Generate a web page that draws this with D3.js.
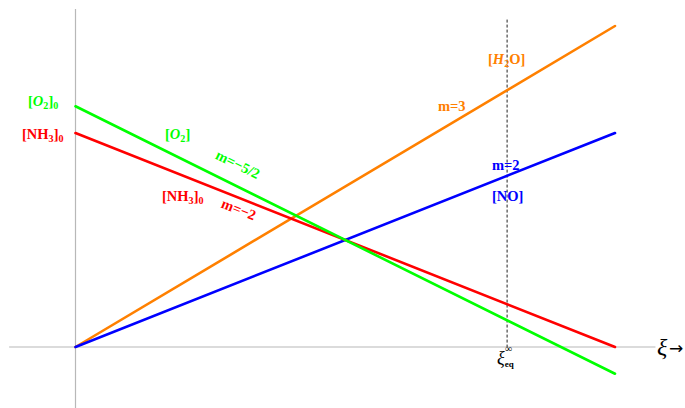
<!DOCTYPE html>
<html>
<head>
<meta charset="utf-8">
<script src="https://cdn.jsdelivr.net/npm/d3@7/dist/d3.min.js"></script>
<style>
  body { margin: 0; background: #fff; }
  text { font-family: "Liberation Serif", "Times New Roman", serif; }
</style>
</head>
<body>
<div id="chart"></div>
<script>
// concentrations as linear functions of the extent of reaction xi
const species = ["H2O", "NO", "NH3", "O2"];
const initial = [0, 0, 2, 2.25];
const slopes = [3, 2, -2, -2.5];
const colors = ["#ff8000", "#0000ff", "#ff0000", "#00ff00"];
const xiRange = [0, 1];
const xiEq = 0.8;

const W = 685, H = 408;

const x = d3.scaleLinear().domain([0, 1]).range([75.5, 615]);
const y = d3.scaleLinear().domain([0, 3]).range([347, 26]);

const svg = d3.select("#chart").append("svg")
  .attr("width", W).attr("height", H);

// axes (plain lines, no ticks)
svg.append("line")
  .attr("x1", x(-0.123)).attr("x2", x(1.075))
  .attr("y1", y(0)).attr("y2", y(0))
  .attr("stroke", "#b8b8b8").attr("stroke-width", 1.2);
svg.append("line")
  .attr("x1", x(0)).attr("x2", x(0))
  .attr("y1", y(3.16)).attr("y2", H)
  .attr("stroke", "#b8b8b8").attr("stroke-width", 1.2);

// equilibrium marker
svg.append("line")
  .attr("x1", x(xiEq)).attr("x2", x(xiEq))
  .attr("y1", y(3.06)).attr("y2", y(0))
  .attr("stroke", "#222").attr("stroke-width", 1)
  .attr("stroke-dasharray", "3,2");

const line = d3.line().x(d => x(d[0])).y(d => y(d[1]));

species.forEach((s, i) => {
  const pts = xiRange.map(xi => [xi, initial[i] + slopes[i] * xi]);
  svg.append("path")
    .attr("d", line(pts))
    .attr("fill", "none")
    .attr("stroke", colors[i])
    .attr("stroke-width", 2.6)
    .attr("stroke-linecap", "round");
});

// label helper: parts = [[text, kind]] where kind: n normal, i italic, sub subscript
function label(px, py, parts, color, size, anchor, rot) {
  const t = svg.append("text")
    .attr("x", px).attr("y", py)
    .attr("fill", color)
    .style("font-size", size + "px")
    .style("font-weight", "bold")
    .attr("text-anchor", anchor || "start")
    .attr("dominant-baseline", "middle");
  if (rot) t.attr("transform", `rotate(${rot},${px},${py})`);
  let shifted = false;
  parts.forEach(p => {
    const ts = t.append("tspan").text(p[0]);
    if (p[1] === "i") ts.style("font-style", "italic");
    if (p[1] === "sub") {
      ts.style("font-size", (size * 0.7) + "px").attr("dy", size * 0.3);
      shifted = true;
    } else if (shifted) {
      ts.attr("dy", -size * 0.3);
      shifted = false;
    }
  });
  return t;
}

const fs = 14.5;
label(28, 103, [["[", "n"], ["O", "i"], ["2", "sub"], ["]", "n"], ["0", "sub"]], colors[3], fs);
label(22, 136, [["[NH", "n"], ["3", "sub"], ["]", "n"], ["0", "sub"]], colors[2], fs);
label(165, 136, [["[", "n"], ["O", "i"], ["2", "sub"], ["]", "n"]], colors[3], fs);
label(237, 166, [["m=\u22125/2", "n"]], colors[3], fs, "middle", Math.atan(2.5 * 107 / 540) * 180 / Math.PI);
label(162, 198, [["[NH", "n"], ["3", "sub"], ["]", "n"], ["0", "sub"]], colors[2], fs);
label(238, 211, [["m=\u22122", "n"]], colors[2], fs, "middle", Math.atan(2 * 107 / 540) * 180 / Math.PI);
label(488, 61, [["[", "n"], ["H", "i"], ["2", "sub"], ["O]", "n"]], colors[0], fs);
label(438, 108, [["m=3", "n"]], colors[0], fs);
label(492, 167, [["m=2", "n"]], colors[1], fs);
label(492, 198, [["[NO]", "n"]], colors[1], fs);

// xi_eq^inf
const ex = x(xiEq);
const eq = svg.append("text")
  .attr("x", ex - 10).attr("y", 364)
  .attr("fill", "#000").style("font-size", "18px");
eq.append("tspan").style("font-style", "italic").text("\u03be");
eq.append("tspan").style("font-size", "9px").style("font-weight", "bold")
  .attr("dy", 3).text("eq");
eq.append("tspan").style("font-size", "10px")
  .attr("x", ex - 2).attr("dy", -15).text("\u221e");

// axis label
svg.append("text")
  .attr("x", 657).attr("y", 355)
  .style("font-size", "24px").style("font-style", "italic")
  .attr("fill", "#000").text("\u03be");
svg.append("text")
  .attr("x", 669).attr("y", 354)
  .style("font-family", "'DejaVu Sans', sans-serif")
  .style("font-size", "17px")
  .attr("fill", "#000").text("\u2192");
</script>
</body>
</html>
